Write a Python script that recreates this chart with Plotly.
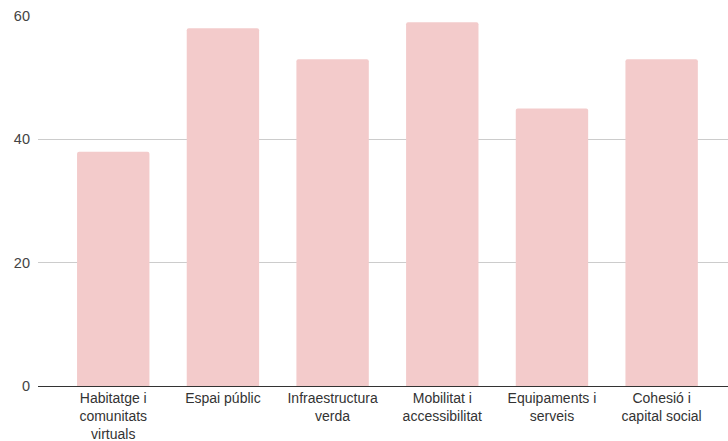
import plotly.graph_objects as go

categories = ["Habitatge i<br>comunitats<br>virtuals", "Espai públic", "Infraestructura<br>verda",
              "Mobilitat i<br>accessibilitat", "Equipaments i<br>serveis", "Cohesió i<br>capital social"]
values = [38, 58, 53, 59, 45, 53]
y_ticks = [0, 20, 40, 60]

fig = go.Figure(go.Bar(x=list(range(len(categories))), y=values, marker_color="#f3cbcb",
                       marker_line_width=0, marker_cornerradius=2))
fig.update_layout(
    width=728, height=441,
    margin=dict(l=38, r=0, t=16, b=55),
    plot_bgcolor="white", paper_bgcolor="white",
    bargap=0.34,
    showlegend=False,
    font=dict(family="Liberation Sans, Arial, sans-serif", size=14, color="#444444"),
    xaxis=dict(tickmode="array", tickvals=list(range(len(categories))), ticktext=categories,
               range=[-0.686, 5.605], showgrid=False, showline=False, ticks="",
               tickfont=dict(size=14, color="#333333"), ticklabelstandoff=2, automargin=False),
    yaxis=dict(range=[0, 60], tickvals=y_ticks, showgrid=True, gridcolor="#cccccc",
               gridwidth=1, zeroline=True, zerolinecolor="#333333", zerolinewidth=1,
               ticks="", tickfont=dict(size=14.5, color="#444444"), ticklabelstandoff=7,
               automargin=False),
)
fig.write_html("out.html", config={"displayModeBar": False},
               post_script="document.body.style.margin='0';")
